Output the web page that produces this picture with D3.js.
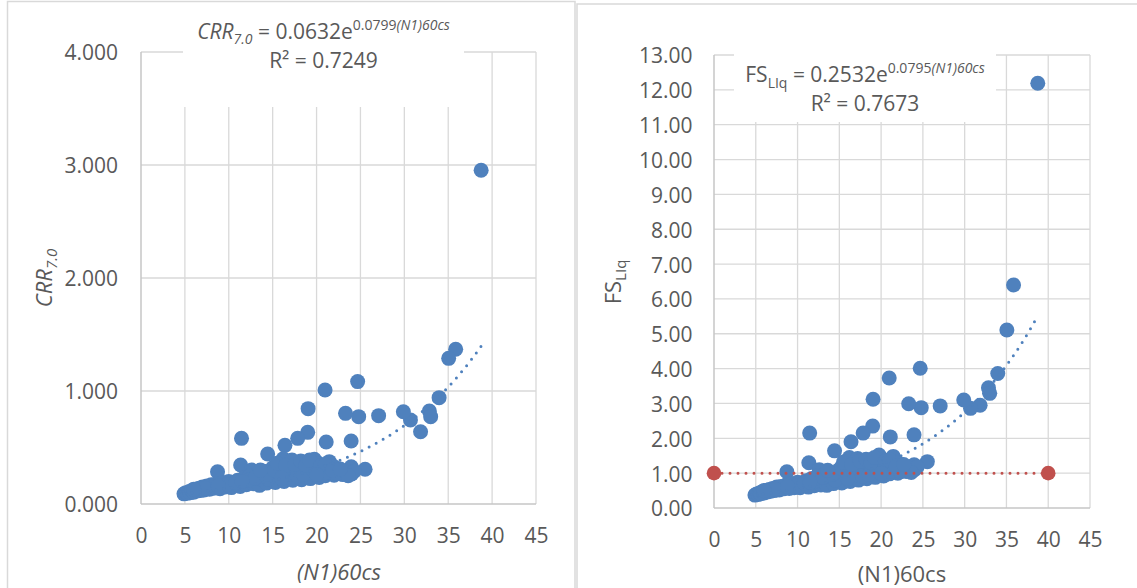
<!DOCTYPE html>
<html>
<head>
<meta charset="utf-8">
<script src="https://cdn.jsdelivr.net/npm/d3@7"></script>
<style>
  body { margin: 0; background: #fff; }
  svg { display: block; font-family: "Open Sans", sans-serif; }
  text { white-space: pre; }
</style>
</head>
<body>
<svg id="chart" width="1137" height="588"></svg>
<script>
// (N1)60cs values shared by both charts
const n160 = [
    38.75, 35.85, 35.05, 33.96, 32.85, 33.0, 31.85, 30.7, 29.89, 27.07,
    24.8, 24.68, 23.3, 20.97, 19.04, 18.99, 17.85, 21.1, 23.94, 16.4,
    14.43, 11.45, 11.35, 8.72, 25.53, 21.45, 19.75, 12.6, 23.95, 22.9,
    4.9, 5.1, 5.3, 5.5, 5.6, 5.8, 6.0, 6.2, 6.4, 6.6,
    6.8, 7.0, 7.2, 7.5, 7.8, 8.0, 8.3, 8.6, 9.0, 9.3,
    9.6, 10.0, 10.3, 10.6, 11.0, 11.3, 11.7, 12.0, 12.4, 12.8,
    13.2, 13.5, 13.8, 14.0, 14.3, 14.7, 15.0, 15.3, 15.6, 16.0,
    16.3, 16.6, 17.0, 17.3, 17.6, 18.0, 18.3, 18.7, 19.0, 19.3,
    19.7, 20.0, 20.3, 20.7, 21.0, 21.5, 22.0, 22.5, 23.0, 23.5,
    24.0, 24.3, 16.8, 17.8, 15.8, 18.5, 19.5, 14.5, 12.2, 9.8,
    7.3, 21.2, 22.3, 23.6, 16.2, 17.2, 20.2, 22.0, 13.0, 14.2,
    15.2, 15.5, 16.5, 17.5, 18.2, 18.8, 19.2, 20.5, 21.0, 21.8,
    22.7, 10.8, 11.5, 8.8, 6.0, 13.6, 16.0, 20.0
];

// CRR 7.0 (left chart)
const crr = [
    2.953, 1.369, 1.289, 0.941, 0.823, 0.773, 0.640, 0.743, 0.817, 0.782,
    0.773, 1.083, 0.802, 1.009, 0.844, 0.634, 0.581, 0.549, 0.558, 0.519,
    0.442, 0.581, 0.345, 0.286, 0.307, 0.375, 0.395, 0.300, 0.330, 0.270,
    0.090, 0.100, 0.095, 0.110, 0.100, 0.120, 0.105, 0.130, 0.115, 0.140,
    0.120, 0.150, 0.125, 0.160, 0.130, 0.170, 0.140, 0.180, 0.135, 0.190,
    0.150, 0.200, 0.145, 0.175, 0.210, 0.155, 0.230, 0.170, 0.250, 0.180,
    0.260, 0.165, 0.220, 0.290, 0.185, 0.250, 0.320, 0.190, 0.270, 0.350,
    0.200, 0.300, 0.380, 0.210, 0.280, 0.330, 0.215, 0.300, 0.360, 0.225,
    0.280, 0.330, 0.235, 0.300, 0.250, 0.320, 0.255, 0.290, 0.260, 0.280,
    0.265, 0.290, 0.260, 0.250, 0.240, 0.260, 0.310, 0.220, 0.210, 0.170,
    0.140, 0.280, 0.270, 0.250, 0.400, 0.390, 0.360, 0.330, 0.230, 0.260,
    0.300, 0.360, 0.340, 0.350, 0.380, 0.340, 0.390, 0.340, 0.350, 0.300,
    0.310, 0.190, 0.200, 0.160, 0.130, 0.300, 0.230, 0.260
];

// FS LIq (right chart)
const fsLiq = [
    12.19, 6.40, 5.11, 3.86, 3.45, 3.29, 2.95, 2.86, 3.10, 2.93,
    2.88, 4.01, 2.99, 3.73, 3.12, 2.35, 2.15, 2.04, 2.10, 1.90,
    1.64, 2.15, 1.30, 1.04, 1.33, 1.48, 1.52, 1.10, 1.24, 1.10,
    0.37, 0.40, 0.39, 0.44, 0.41, 0.47, 0.43, 0.50, 0.46, 0.53,
    0.48, 0.56, 0.50, 0.60, 0.52, 0.62, 0.55, 0.66, 0.56, 0.70,
    0.58, 0.74, 0.58, 0.66, 0.78, 0.60, 0.85, 0.64, 0.92, 0.66,
    0.95, 0.65, 0.82, 1.02, 0.70, 0.90, 1.10, 0.72, 0.98, 1.22,
    0.76, 1.05, 1.30, 0.80, 1.00, 1.15, 0.84, 1.10, 1.28, 0.88,
    1.02, 1.22, 0.92, 1.10, 0.98, 1.18, 1.00, 1.10, 1.05, 1.12,
    1.10, 1.18, 0.95, 0.92, 0.88, 0.96, 1.15, 0.80, 0.78, 0.64,
    0.54, 1.05, 1.04, 1.02, 1.45, 1.42, 1.40, 1.30, 0.88, 0.98,
    1.15, 1.32, 1.25, 1.35, 1.40, 1.30, 1.45, 1.35, 1.38, 1.20,
    1.25, 0.72, 0.74, 0.62, 0.50, 1.08, 0.85, 1.00
];

// FS = 1 reference series (right chart)
const limitX = [0, 40];
const limitY = [1, 1];

const xTicks = [0, 5, 10, 15, 20, 25, 30, 35, 40, 45];
const crrTicks = [0, 1, 2, 3, 4];
const fsTicks = d3.range(0, 14);

const blue = "#4F81BD";
const red = "#C0504D";
const textColor = "#595959";
const font = '"Open Sans", sans-serif';

const svg = d3.select("#chart");

// chart frames
svg.append("rect")
    .attr("x", 7.5).attr("y", 1.5).attr("width", 567.5).attr("height", 620)
    .attr("fill", "none").attr("stroke", "#d9d9d9").attr("stroke-width", 1.5);
svg.append("rect")
    .attr("x", 577).attr("y", 4).attr("width", 620).attr("height", 620)
    .attr("fill", "none").attr("stroke", "#d9d9d9").attr("stroke-width", 1.5);

function drawPanel(p) {
    const x = d3.scaleLinear().domain([0, 45]).range([p.left, p.right]);
    const y = d3.scaleLinear().domain([0, p.yMax]).range([p.bottom, p.top]);
    const g = svg.append("g");

    // gridlines
    g.append("g").selectAll("line").data(xTicks.slice(1)).join("line")
        .attr("x1", d => x(d)).attr("x2", d => x(d))
        .attr("y1", p.top).attr("y2", p.bottom)
        .attr("stroke", "#d9d9d9").attr("stroke-width", 1.3);
    g.append("g").selectAll("line").data(p.yTicks.slice(1)).join("line")
        .attr("x1", p.left).attr("x2", p.right)
        .attr("y1", d => y(d)).attr("y2", d => y(d))
        .attr("stroke", "#d9d9d9").attr("stroke-width", 1.3);

    // axis lines
    g.append("line")
        .attr("x1", p.left).attr("x2", p.right)
        .attr("y1", p.bottom).attr("y2", p.bottom)
        .attr("stroke", "#c6c6c6").attr("stroke-width", 1.5);
    g.append("line")
        .attr("x1", p.left).attr("x2", p.left)
        .attr("y1", p.top).attr("y2", p.bottom)
        .attr("stroke", "#c6c6c6").attr("stroke-width", 1.5);

    // tick labels
    g.append("g")
        .attr("transform", `translate(0,${p.bottom})`)
        .call(d3.axisBottom(x).tickValues(xTicks).tickSize(0).tickPadding(24).tickFormat(d3.format("d")))
        .call(a => a.select(".domain").remove())
        .attr("font-size", 21).attr("font-family", font).attr("color", textColor);
    g.append("g")
        .attr("transform", `translate(${p.left},0)`)
        .call(d3.axisLeft(y).tickValues(p.yTicks).tickSize(0).tickPadding(p.yPad).tickFormat(d3.format(p.yFmt)))
        .call(a => a.select(".domain").remove())
        .call(a => a.selectAll("text").attr("dy", "0.38em"))
        .attr("font-size", 21).attr("font-family", font).attr("color", textColor);

    // white box behind the trendline label
    g.append("rect")
        .attr("x", p.box[0]).attr("y", p.box[1])
        .attr("width", p.box[2] - p.box[0]).attr("height", p.box[3] - p.box[1])
        .attr("fill", "#fff");

    // points
    g.append("g").selectAll("circle").data(n160).join("circle")
        .attr("cx", d => x(d))
        .attr("cy", (d, i) => y(p.values[i]))
        .attr("r", 7.5)
        .attr("fill", blue);

    // exponential trendline over the data range
    const xMin = d3.min(n160), xMax = d3.max(n160);
    const trendX = d3.range(xMin, xMax, 0.2).concat([xMax]);
    g.append("path")
        .datum(trendX)
        .attr("d", d3.line().x(d => x(d)).y(d => y(p.a * Math.exp(p.b * d))))
        .attr("fill", "none")
        .attr("stroke", blue).attr("stroke-width", 3)
        .attr("stroke-dasharray", "0 8").attr("stroke-linecap", "round");

    return { x, y, g };
}

// ---- left chart: CRR 7.0 ----
drawPanel({
    left: 141, right: 536, top: 52, bottom: 504,
    yMax: 4, yTicks: crrTicks, yFmt: ".3f", yPad: 23,
    values: crr, a: 0.0632, b: 0.0799,
    box: [183, 8, 464, 107]
});

const eqL = svg.append("text")
    .attr("x", 323.5).attr("y", 39).attr("text-anchor", "middle")
    .attr("font-size", 21).attr("fill", textColor);
eqL.append("tspan").attr("font-style", "italic").text("CRR");
eqL.append("tspan").attr("font-style", "italic").attr("font-size", 14).attr("dy", 5).text("7.0");
eqL.append("tspan").attr("dy", -5).text(" = 0.0632e");
eqL.append("tspan").attr("font-size", 14).attr("dy", -9).text("0.0799");
eqL.append("tspan").attr("font-size", 14).attr("font-style", "italic").text("(N1)60cs");

svg.append("text")
    .attr("x", 323.5).attr("y", 68).attr("text-anchor", "middle")
    .attr("font-size", 21).attr("fill", textColor)
    .text("R² = 0.7249");

const yTitleL = svg.append("text")
    .attr("transform", "translate(52,278) rotate(-90)")
    .attr("text-anchor", "middle").attr("font-size", 22)
    .attr("font-style", "italic").attr("fill", textColor);
yTitleL.append("tspan").text("CRR");
yTitleL.append("tspan").attr("font-size", 15).attr("dy", 5).text("7.0");

svg.append("text")
    .attr("x", 339).attr("y", 580).attr("text-anchor", "middle")
    .attr("font-size", 22).attr("font-style", "italic").attr("fill", textColor)
    .text("(N1)60cs");

// ---- right chart: FS LIq ----
const right = drawPanel({
    left: 714, right: 1090, top: 55, bottom: 508,
    yMax: 13, yTicks: fsTicks, yFmt: ".2f", yPad: 21.5,
    values: fsLiq, a: 0.2532, b: 0.0795,
    box: [734, 20, 996, 122]
});

// FS = 1 line with end markers
right.g.append("path")
    .datum(limitX.map((d, i) => [d, limitY[i]]))
    .attr("d", d3.line().x(d => right.x(d[0])).y(d => right.y(d[1])))
    .attr("fill", "none")
    .attr("stroke", red).attr("stroke-width", 3)
    .attr("stroke-dasharray", "0 8").attr("stroke-linecap", "round");
right.g.append("g").selectAll("circle").data(limitX).join("circle")
    .attr("cx", d => right.x(d))
    .attr("cy", (d, i) => right.y(limitY[i]))
    .attr("r", 7.3)
    .attr("fill", red);

const eqR = svg.append("text")
    .attr("x", 865).attr("y", 82).attr("text-anchor", "middle")
    .attr("font-size", 21).attr("fill", textColor);
eqR.append("tspan").text("FS");
eqR.append("tspan").attr("font-size", 14).attr("dy", 6).text("LIq");
eqR.append("tspan").attr("dy", -6).text(" = 0.2532e");
eqR.append("tspan").attr("font-size", 14).attr("dy", -9).text("0.0795");
eqR.append("tspan").attr("font-size", 14).attr("font-style", "italic").text("(N1)60cs");

svg.append("text")
    .attr("x", 865).attr("y", 111).attr("text-anchor", "middle")
    .attr("font-size", 21).attr("fill", textColor)
    .text("R² = 0.7673");

const yTitleR = svg.append("text")
    .attr("transform", "translate(621,282) rotate(-90)")
    .attr("text-anchor", "middle").attr("font-size", 22).attr("fill", textColor);
yTitleR.append("tspan").text("FS");
yTitleR.append("tspan").attr("font-size", 15).attr("dy", 5).text("LIq");

svg.append("text")
    .attr("x", 902).attr("y", 582).attr("text-anchor", "middle")
    .attr("font-size", 22).attr("fill", textColor)
    .text("(N1)60cs");
</script>
</body>
</html>
